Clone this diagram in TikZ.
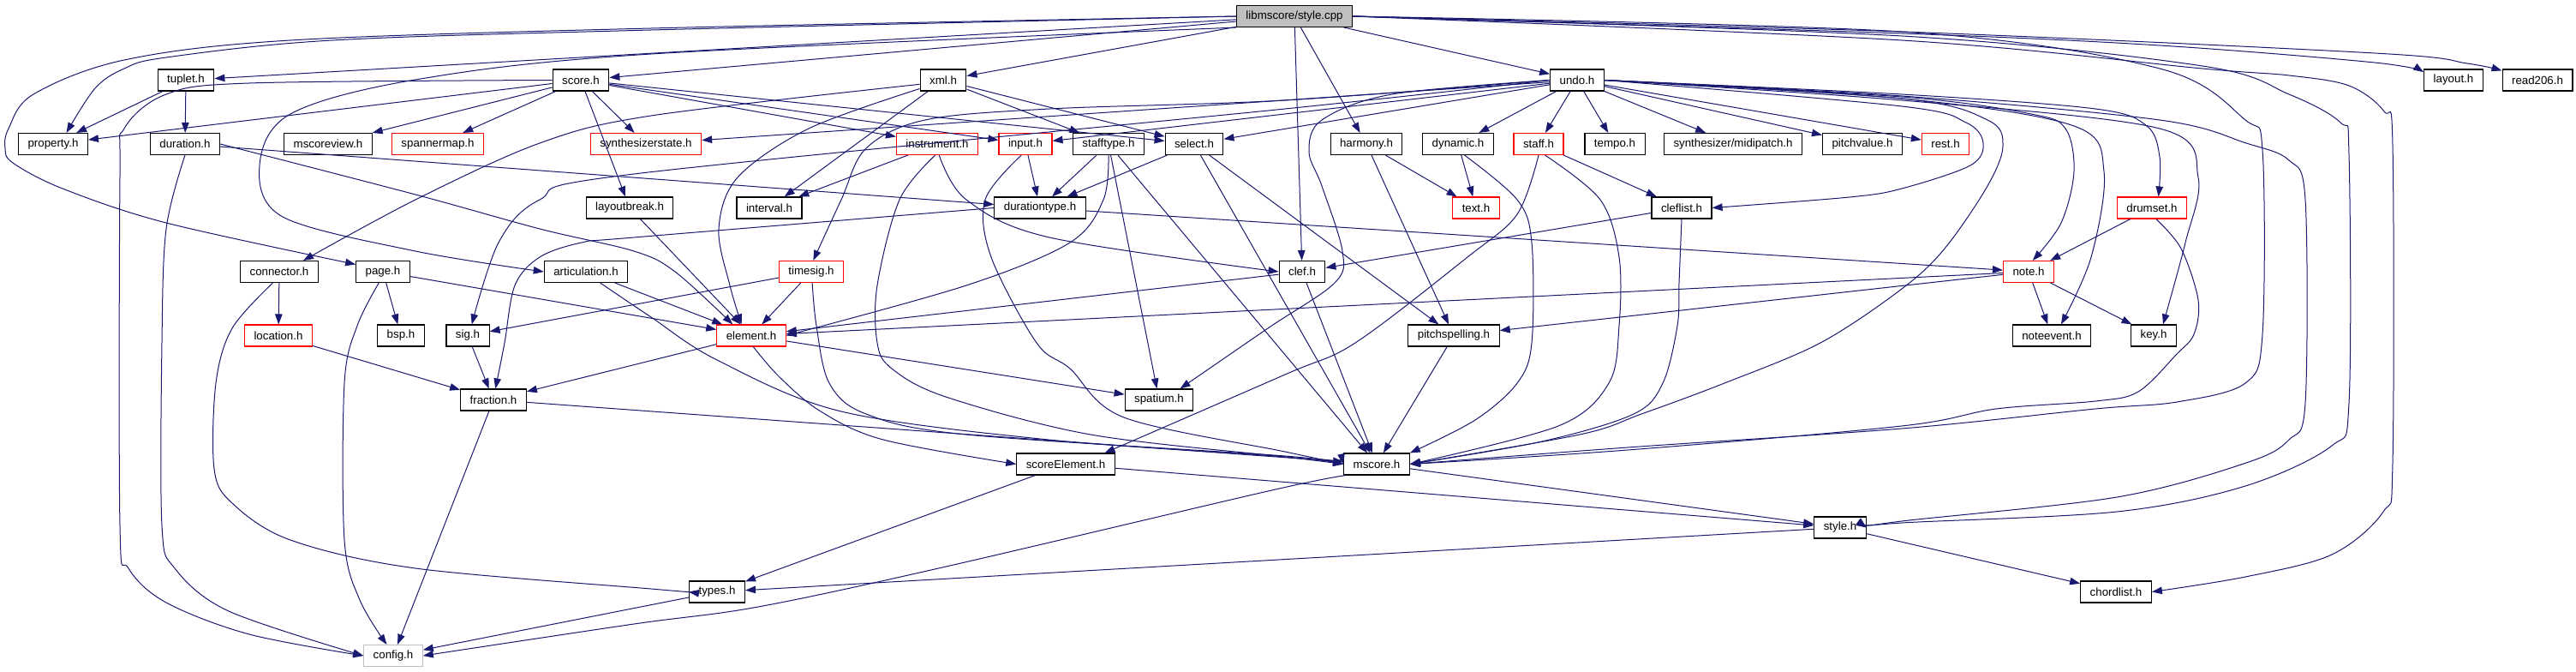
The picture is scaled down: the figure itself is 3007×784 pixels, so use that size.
\documentclass[tikz,border=0pt]{standalone}
\usepackage{fontspec}
\setmainfont{Liberation Sans}
\usetikzlibrary{arrows.meta}
\definecolor{edgeblue}{HTML}{191970}
\definecolor{mainfill}{HTML}{BFBFBF}
\definecolor{lightborder}{HTML}{BFBFBF}
\tikzset{
  box/.style={draw=black, line width=1.1pt, minimum height=25pt, inner xsep=11pt, inner ysep=0pt, fill=white, font=\fontsize{13.3}{15}\selectfont, text=black},
  redbox/.style={box, draw=red},
  graybox/.style={box, draw=lightborder},
  mainbox/.style={box, fill=mainfill},
  e/.style={draw=edgeblue, line width=1.0pt, -{Triangle[length=12pt,width=8.5pt]}},
  sm/.style={smooth, tension=0.55}
}
\begin{document}
\begin{tikzpicture}[x=1pt,y=-1pt]
\useasboundingbox (0,0) rectangle (3007,784);
% rank 0
\node[mainbox] (main) at (1511,19) {libmscore/style.cpp};
% rank 1
\node[box] (tuplet) at (217,93.5) {tuplet.h};
\node[box] (score) at (678,93.5) {score.h};
\node[box] (xml) at (1101,93.5) {xml.h};
\node[box] (undo) at (1841,93.5) {undo.h};
\node[box] (layout) at (2864,93.5) {layout.h};
\node[box] (readtwo) at (2962,93.5) {read206.h};
% rank 2
\node[box] (property) at (62,168) {property.h};
\node[box] (duration) at (216,168) {duration.h};
\node[box] (mscoreview) at (383,168) {mscoreview.h};
\node[redbox] (spannermap) at (511,168) {spannermap.h};
\node[redbox] (synthstate) at (754,168) {synthesizerstate.h};
\node[redbox] (instrument) at (1094,168) {instrument.h};
\node[redbox] (input) at (1197,168) {input.h};
\node[box] (stafftype) at (1294,168) {stafftype.h};
\node[box] (select) at (1394,168) {select.h};
\node[box] (harmony) at (1595,168) {harmony.h};
\node[box] (dynamic) at (1702,168) {dynamic.h};
\node[redbox] (staff) at (1796,168) {staff.h};
\node[box] (tempo) at (1885,168) {tempo.h};
\node[box] (midipatch) at (2023,168) {synthesizer/midipatch.h};
\node[box] (pitchvalue) at (2174,168) {pitchvalue.h};
\node[redbox] (rest) at (2271,168) {rest.h};
% rank 3
\node[box] (layoutbreak) at (735,242.5) {layoutbreak.h};
\node[box] (interval) at (898,242.5) {interval.h};
\node[box] (durationtype) at (1214,242.5) {durationtype.h};
\node[redbox] (text) at (1723,242.5) {text.h};
\node[box] (cleflist) at (1963,242.5) {cleflist.h};
\node[redbox] (drumset) at (2512,242.5) {drumset.h};
% rank 4
\node[box] (connector) at (326,317) {connector.h};
\node[box] (page) at (447,317) {page.h};
\node[box] (articulation) at (684,317) {articulation.h};
\node[redbox] (timesig) at (947,317) {timesig.h};
\node[box] (clef) at (1520,317) {clef.h};
\node[redbox] (note) at (2368,317) {note.h};
% rank 5
\node[redbox] (location) at (325,391.5) {location.h};
\node[box] (bsp) at (468,391.5) {bsp.h};
\node[box] (sig) at (546,391.5) {sig.h};
\node[redbox] (element) at (877,391.5) {element.h};
\node[box] (pitchspelling) at (1697,391.5) {pitchspelling.h};
\node[box] (noteevent) at (2395,391.5) {noteevent.h};
\node[box] (key) at (2514,391.5) {key.h};
% rank 6
\node[box] (fraction) at (576,466.5) {fraction.h};
\node[box] (spatium) at (1353,466.5) {spatium.h};
% rank 7
\node[box] (scoreElement) at (1244,541.5) {scoreElement.h};
\node[box] (mscore) at (1607,541.5) {mscore.h};
% rank 8
\node[box] (style) at (2148,615.5) {style.h};
% rank 9
\node[box] (types) at (837,690.5) {types.h};
\node[box] (chordlist) at (2470,690.5) {chordlist.h};
% rank 10
\node[graybox] (config) at (459,765) {config.h};

% ---------- straight edges ----------
\foreach \a/\b in {main/tuplet, main/score, main/xml, main/undo, main/harmony, main/clef,
  score/property, score/mscoreview, score/spannermap, score/synthstate, score/layoutbreak, score/instrument, score/input, score/select,
  tuplet/property, tuplet/duration,
  xml/interval, xml/stafftype, xml/select,
  undo/synthstate, undo/input, undo/select, undo/dynamic, undo/staff, undo/tempo, undo/midipatch, undo/pitchvalue, undo/rest,
  harmony/text, harmony/pitchspelling, dynamic/text, staff/cleflist, cleflist/clef,
  clef/element, clef/mscore, instrument/interval, input/durationtype,
  select/durationtype, select/mscore, select/pitchspelling,
  stafftype/durationtype, stafftype/spatium, stafftype/mscore,
  durationtype/note, duration/durationtype, connector/location, location/fraction,
  page/bsp, page/element, articulation/element, timesig/sig, timesig/element, sig/fraction,
  element/spatium, element/fraction, fraction/mscore, fraction/config, pitchspelling/mscore,
  scoreElement/types, scoreElement/style, mscore/style, style/types, style/chordlist,
  types/config, note/element, note/pitchspelling, note/noteevent, note/key, drumset/note, layoutbreak/element}
  \draw[e] (\a) -- (\b);

% ---------- curved edges ----------
% from main (left side)
\draw[e] plot[sm] coordinates {(main.west) (760,35) (388,47) (194,67) (145,80) (111,103) (property.40)};
\draw[e] plot[sm] coordinates {(main.west) (760,33) (339,47) (145,70) (39,110) (10,150) (6,173) (15,190) (73,220) (194,260) (page.165)};
\draw[e] plot[sm] coordinates {(main.south west) (760,63) (485,93) (339,133) (303,193) (330,253) (485,293) (articulation.west)};
% from main (right side)
\draw[e] plot[sm] coordinates {(main.east) (2220,39) (2521,53) (2772,73) (layout.165)};
\draw[e] plot[sm] coordinates {(main.east) (2220,37) (2772,62) (2880,74) (readtwo.165)};
\draw[e] plot[sm] coordinates {(main.east) (2220,42) (2571,77) (2672,110) (2732,143) (2742,180) (2742,470) (2722,520) (2621,567) (2471,597) (2220,610) (style.east)};
\draw[e] plot[sm] coordinates {(main.east) (2220,47) (2571,80) (2672,88) (2742,100) (2783,130) (2793,170) (2793,540) (2782,597) (2722,647) (2621,673) (chordlist.east)};
\draw[e] plot[sm] coordinates {(main.east) (2220,37) (2521,80) (2621,140) (2641,175) (2641,390) (2621,447) (2541,469) (2446,477) (2220,500) (1900,522) (mscore.east)};
% from undo
\draw[e] plot[sm] coordinates {(undo.east) (2220,112) (2521,140) (2622,167) (2672,187) (2691,233) (2691,470) (2672,513) (2622,540) (2471,580) (2220,608) (style.east)};
\draw[e] plot[sm] coordinates {(undo.east) (2220,124) (2295,143) (2315,167) (2300,193) (2220,220) (2159,230) (cleflist.east)};
\draw[e] plot[sm] coordinates {(undo.east) (2220,115) (2320,140) (2338,170) (2320,217) (2270,290) (2220,337) (2125,400) (2013,447) (1916,483) (1844,507) (mscore.east)};
\draw[e] plot[sm] coordinates {(undo.east) (2220,113) (2371,133) (2411,150) (2421,200) (2406,260) (note.70)};
\draw[e] plot[sm] coordinates {(undo.east) (2220,115) (2421,147) (2456,200) (2441,300) (noteevent.50)};
\draw[e] plot[sm] coordinates {(undo.east) (2220,110) (2446,127) (2506,147) (2521,183) (drumset.60)};
\draw[e] plot[sm] coordinates {(undo.east) (2220,117) (2521,150) (2566,207) (2551,283) (key.50)};
\draw[e] plot[sm] coordinates {(undo.west) (1625,110) (1543,140) (1528,177) (1543,217) (1567,293) (1558,330) (1480,383) (spatium.28)};
\draw[e] plot[sm] coordinates {(undo.west) (1500,117) (1225,127) (1080,140) (1011,173) (982,233) (timesig.80)};
\draw[e] plot[sm] coordinates {(undo.west) (1500,127) (740,203) (630,233) (582,283) (sig.70)};
% others into mscore
\draw[e] plot[sm] coordinates {(dynamic.-60) (1771,233) (1788,283) (1788,400) (1771,447) (1722,490) (mscore.north east)};
\draw[e] plot[sm] coordinates {(staff.-60) (1868,233) (1890,300) (1890,380) (1878,447) (1819,497) (mscore.east)};
\draw[e] plot[sm] coordinates {(cleflist.south) (1960,330) (1958,380) (1941,447) (1907,483) (1800,515) (mscore.east)};
\draw[e] plot[sm] coordinates {(drumset.-70) (2546,290) (2566,350) (2561,390) (2541,413) (2496,457) (2446,468) (2330,477) (2220,497) (1900,525) (mscore.east)};
\draw[e] plot[sm] coordinates {(instrument.-100) (1050,233) (1024,333) (1024,400) (1041,430) (1104,463) (1273,507) (1500,533) (mscore.west)};
\draw[e] plot[sm] coordinates {(input.-110) (1150,233) (1157,300) (1210,400) (1249,430) (1312,487) (1500,527) (mscore.west)};
\draw[e] plot[sm] coordinates {(articulation.-38) (760,370) (837,420) (982,480) (1224,513) (1500,533) (mscore.west)};
\draw[e] plot[sm] coordinates {(timesig.-85) (953,380) (968,447) (1011,483) (1128,507) (1500,532) (mscore.west)};
% out of mscore
\draw[e] plot[sm] coordinates {(mscore.-160) (1480,573) (1100,662) (885,708) (740,728) (config.east)};
% misc curves
\draw[e] plot[sm] coordinates {(staff.south) (1771,250) (1713,300) (1582,400) (1500,437) (scoreElement.16)};
\draw[e] plot[sm] coordinates {(instrument.-80) (1128,233) (1225,277) (clef.west)};
\draw[e] plot[sm] coordinates {(stafftype.south) (1288,233) (1249,283) (1128,333) (element.east)};
\draw[e] plot[sm] coordinates {(durationtype.west) (740,277) (679,283) (630,300) (601,333) (589,400) (fraction.80)};
\draw[e] plot[sm] coordinates {(duration.east) (485,227) (630,267) (740,293) (788,317) (element.149)};
\draw[e] plot[sm] coordinates {(duration.south) (194,267) (189,400) (189,613) (204,663) (267,713) (config.west)};
\draw[e] plot[sm] coordinates {(score.west) (291,97) (194,110) (145,150) (140,207) (140,613) (150,663) (194,703) (291,740) (config.west)};
\draw[e] plot[sm] coordinates {(page.-110) (417,380) (402,447) (402,630) (420,700) (config.120)};
\draw[e] plot[sm] coordinates {(connector.-120) (271,383) (252,447) (250,547) (271,587) (339,630) (485,663) (760,687) (types.west)};
\draw[e] plot[sm] coordinates {(element.-80) (910,440) (958,480) (1031,513) (scoreElement.west)};
\draw[e] plot[sm] coordinates {(xml.-160) (944,150) (861,207) (839,267) (852,333) (element.131)};
\draw[e] plot[sm] coordinates {(xml.-170) (760,135) (630,167) (485,233) (connector.25)};
\end{tikzpicture}
\end{document}
